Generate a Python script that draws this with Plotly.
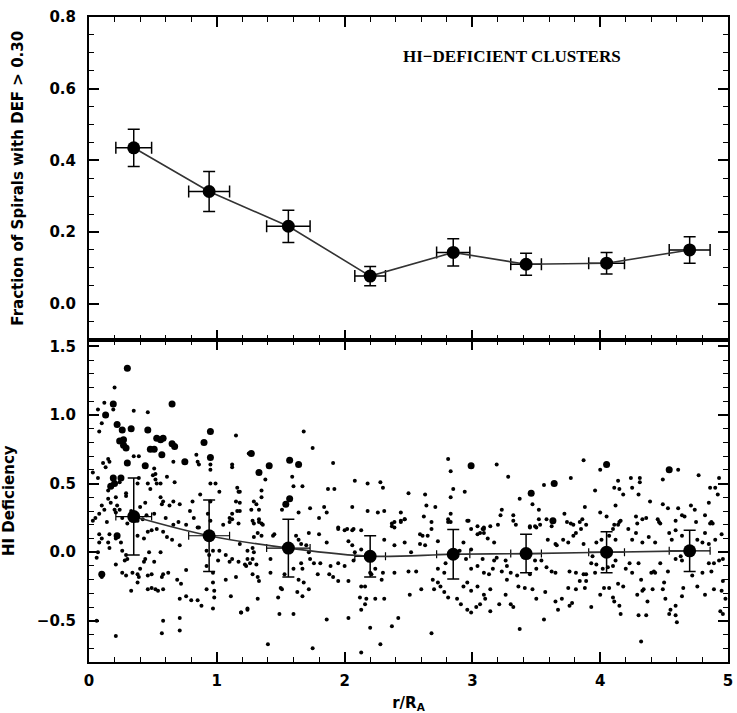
import plotly.graph_objects as go
from plotly.subplots import make_subplots

# ---- binned data ----
bin_x = [0.35, 0.94, 1.56, 2.20, 2.85, 3.42, 4.05, 4.70]
bin_xerr = [0.14, 0.16, 0.17, 0.12, 0.13, 0.12, 0.14, 0.16]
frac_y = [0.435, 0.313, 0.216, 0.077, 0.143, 0.110, 0.113, 0.150]
frac_err = [0.052, 0.056, 0.045, 0.027, 0.038, 0.031, 0.030, 0.037]
def_y = [0.26, 0.12, 0.03, -0.03, -0.015, -0.01, 0.0, 0.01]
def_err = [0.28, 0.26, 0.21, 0.15, 0.18, 0.14, 0.15, 0.15]

# ---- individual galaxies (large symbols) ----
big_x = [0.30, 0.19, 0.13, 0.65, 0.22, 0.26, 0.33, 0.46, 0.27, 0.24, 0.27, 0.29, 0.53, 0.58, 0.56,
         0.65, 0.67, 0.48, 0.51, 0.57, 0.90, 0.95, 0.95, 0.75, 0.30, 0.19, 0.20, 0.17, 0.25, 0.44,
         0.22, 0.10, 1.27, 1.33, 1.41, 1.57, 1.64, 1.57, 1.54, 2.99, 4.05, 4.54, 3.64, 3.46, 3.63]
big_y = [1.34, 1.08, 1.00, 1.08, 0.93, 0.89, 0.90, 0.89, 0.82, 0.81, 0.78, 0.76, 0.83, 0.83, 0.82,
         0.79, 0.77, 0.75, 0.75, 0.71, 0.80, 0.88, 0.69, 0.66, 0.65, 0.54, 0.50, 0.48, 0.54, 0.63,
         0.12, -0.16, 0.72, 0.58, 0.63, 0.67, 0.64, 0.39, 0.35, 0.63, 0.64, 0.60, 0.50, 0.43, 0.23]

# ---- individual galaxies (small symbols) ----
small_pts = [
    # r < 1.25, upper
    (0.20, 1.20), (0.19, 1.04), (0.12, 1.09), (0.07, 1.04), (0.10, 0.94), (0.08, 0.88), (0.35, 1.03),
    (0.46, 1.02), (0.39, 0.70), (0.35, 0.70), (1.15, 0.85), (0.84, 0.71), (0.95, 0.64), (0.95, 0.60),
    (0.85, 0.66), (0.86, 0.64), (0.66, 0.66), (1.12, 0.64), (1.12, 0.62), (0.16, 0.66), (0.13, 0.62),
    (0.15, 0.68), (0.11, 0.65), (0.03, 0.58), (0.07, 0.54), (0.24, 0.51), (0.39, 0.54), (0.38, 0.50),
    (0.51, 0.61), (0.52, 0.57), (0.50, 0.56), (0.52, 0.53), (0.53, 0.50), (0.56, 0.50), (0.46, 0.50),
    (0.48, 0.46), (0.61, 0.55), (0.67, 0.51), (0.29, 0.43), (0.29, 0.41), (0.15, 0.45), (0.15, 0.39),
    (0.17, 0.36), (0.21, 0.40), (0.22, 0.34), (0.10, 0.34), (0.08, 0.28), (0.12, 0.31), (0.20, 0.31),
    (0.21, 0.29), (0.24, 0.31), (0.56, 0.40), (0.58, 0.37), (0.57, 0.35), (0.66, 0.37), (0.71, 0.35),
    (0.63, 0.34), (0.81, 0.37), (0.87, 0.42), (0.95, 0.50), (0.99, 0.50), (1.02, 0.44), (1.16, 0.47),
    (1.17, 0.44), (1.15, 0.37), (1.16, 0.30), (0.95, 0.37), (0.93, 0.28), (0.95, 0.23), (0.79, 0.30),
    (0.82, 0.25), (1.10, 0.25), (1.12, 0.28), (1.25, 0.72), (0.51, 0.28), (0.45, 0.27), (0.42, 0.24),
    (0.30, 0.21), (0.38, 0.23), (0.66, 0.20), (0.76, 0.20), (0.05, 0.25), (0.14, 0.22), (0.26, 0.25),
    (0.33, 0.30), (0.40, 0.33), (0.44, 0.36), (0.60, 0.25), (0.70, 0.22), (0.86, 0.18), (1.05, 0.20),
    # r < 1.25, lower
    (0.03, 0.23), (0.08, 0.13), (0.10, 0.10), (0.08, 0.07), (0.16, 0.13), (0.15, 0.07), (0.07, 0.00),
    (0.06, -0.04), (0.21, 0.10), (0.16, 0.03), (0.25, 0.07), (0.26, 0.01), (0.29, -0.02), (0.30, -0.05),
    (0.28, -0.06), (0.21, -0.09), (0.10, -0.18), (0.26, -0.15), (0.29, -0.17), (0.34, -0.15), (0.38, -0.16),
    (0.39, -0.18), (0.38, -0.22), (0.33, -0.28), (0.40, -0.12), (0.43, -0.07), (0.44, -0.05), (0.47, 0.00),
    (0.46, -0.27), (0.49, -0.26), (0.52, -0.27), (0.54, -0.28), (0.51, -0.07), (0.56, 0.00), (0.58, -0.16),
    (0.57, -0.18), (0.62, -0.15), (0.46, -0.17), (0.49, -0.16), (0.58, -0.27), (0.69, -0.20), (0.72, -0.23),
    (0.76, -0.13), (0.71, -0.34), (0.76, -0.32), (0.80, -0.35), (0.85, -0.35), (0.88, -0.39), (0.92, -0.27),
    (0.97, -0.22), (0.98, -0.28), (0.98, -0.33), (0.97, -0.41), (1.07, -0.20), (1.11, -0.32), (1.15, -0.18),
    (1.19, -0.44), (1.24, -0.41), (0.58, -0.50), (0.57, -0.59), (0.71, -0.48), (0.71, -0.57), (0.06, -0.50),
    (0.21, -0.61), (0.46, 0.15), (0.49, 0.16), (0.53, 0.17), (0.58, 0.15), (0.61, 0.11), (0.65, 0.09),
    (0.71, 0.05), (0.38, 0.12), (0.43, 0.10), (0.85, 0.18), (0.92, 0.01), (0.94, -0.02), (0.97, 0.01),
    (1.02, 0.01), (1.07, -0.02), (1.12, -0.05), (1.10, -0.07), (1.01, -0.06), (0.92, -0.10), (0.97, -0.15),
    (1.17, -0.07), (1.24, -0.05), (1.23, -0.10), (1.10, 0.22), (1.12, 0.24), (1.17, 0.21),
    # 1.2 < r < 3.1, upper
    (1.68, 0.88), (1.75, 0.76), (1.38, 0.53), (1.59, 0.55), (1.60, 0.48), (1.67, 0.48), (1.91, 0.65),
    (1.87, 0.46), (1.92, 0.46), (2.08, 0.52), (2.18, 0.50), (2.28, 0.51), (2.30, 0.47), (2.50, 0.43),
    (2.63, 0.42), (2.64, 0.34), (2.71, 0.33), (2.81, 0.68), (2.83, 0.59), (2.85, 0.46), (2.83, 0.40),
    (2.83, 0.28), (2.94, 0.44), (1.18, 0.44), (1.18, 0.36), (1.18, 0.30), (1.35, 0.45), (1.35, 0.40),
    (1.29, 0.37), (1.31, 0.35), (1.27, 0.31), (1.33, 0.31), (1.29, 0.21), (1.35, 0.21), (1.33, 0.24),
    (1.51, 0.31), (1.64, 0.29), (1.73, 0.32), (1.84, 0.33), (1.86, 0.29), (1.80, 0.25), (2.06, 0.33),
    (2.18, 0.30), (2.26, 0.29), (2.31, 0.30), (2.37, 0.21), (2.44, 0.29), (2.47, 0.24), (2.44, 0.22),
    (2.39, 0.18), (2.62, 0.26), (2.68, 0.22), (2.81, 0.22), (2.97, 0.23), (3.09, 0.18), (1.95, 0.18),
    (2.02, 0.17), (2.07, 0.17),
    # 1.2 < r < 3.1, lower
    (1.28, 0.23), (1.33, 0.22), (1.36, 0.20), (1.32, 0.14), (1.29, 0.11), (1.35, 0.12), (1.45, 0.13),
    (1.44, 0.12), (1.18, 0.06), (1.24, 0.01), (1.28, 0.03), (1.29, 0.00), (1.28, -0.05), (1.26, -0.08),
    (1.22, -0.09), (1.31, -0.09), (1.42, -0.05), (1.28, -0.16), (1.32, -0.18), (1.33, -0.21), (1.42, -0.15),
    (1.53, -0.16), (1.50, -0.26), (1.51, -0.27), (1.48, -0.33), (1.32, -0.34), (1.24, -0.42), (1.19, -0.44),
    (1.49, -0.45), (1.60, -0.45), (1.63, -0.29), (1.67, -0.32), (1.72, -0.27), (1.68, -0.22), (1.64, -0.20),
    (1.62, 0.12), (1.64, 0.09), (1.66, 0.06), (1.70, 0.05), (1.72, 0.00), (1.73, -0.05), (1.66, -0.08),
    (1.67, -0.12), (1.60, -0.12), (1.72, 0.14), (1.80, 0.13), (1.86, 0.07), (1.81, -0.08), (1.79, -0.16),
    (1.76, -0.08), (1.88, -0.16), (1.91, -0.18), (1.95, -0.21), (1.89, -0.10), (1.95, -0.08), (2.00, -0.10),
    (1.86, -0.49), (2.03, -0.48), (1.75, -0.70), (1.40, -0.67), (1.95, 0.17), (2.00, 0.16), (2.06, 0.16),
    (2.13, 0.16), (2.03, 0.08), (2.06, 0.05), (2.13, 0.02), (2.03, -0.21), (2.07, -0.06), (2.08, 0.00),
    (2.13, -0.25), (2.16, -0.25), (2.12, -0.33), (2.17, -0.34), (2.24, -0.34), (2.16, -0.38), (2.13, -0.42),
    (2.20, -0.15), (2.21, -0.16), (2.24, -0.12), (2.29, -0.20), (2.30, -0.15), (2.39, -0.15), (2.50, -0.14),
    (2.56, -0.14), (2.31, -0.34), (2.37, -0.54), (2.42, -0.48), (2.28, -0.67), (2.13, -0.73), (2.20, -0.55),
    (2.37, 0.19), (2.39, 0.22), (2.44, 0.23), (2.47, 0.24), (2.31, 0.09), (2.39, 0.05), (2.47, 0.07),
    (2.52, 0.00), (2.59, 0.06), (2.63, 0.05), (2.65, 0.12), (2.61, 0.12), (2.59, 0.13), (2.68, 0.17),
    (2.51, -0.31), (2.60, -0.27), (2.68, -0.59), (2.69, -0.20), (2.70, -0.27), (2.73, -0.22), (2.75, -0.25),
    (2.78, -0.29), (2.81, -0.33), (2.79, -0.08), (2.73, -0.12), (2.78, -0.15), (2.88, -0.34), (2.91, -0.38),
    (2.96, -0.42), (2.99, -0.44), (3.03, -0.40), (2.96, -0.22), (2.99, -0.28), (2.93, -0.25), (2.99, -0.12),
    (3.04, -0.10), (3.08, -0.05), (3.09, -0.15), (2.83, 0.22), (2.96, 0.23), (2.99, 0.17), (3.04, 0.13),
    (3.09, 0.14), (2.93, 0.07), (2.99, 0.02), (2.95, -0.05), (2.90, 0.01), (2.81, 0.24), (2.73, 0.08),
    # r > 3, upper
    (3.19, 0.64), (3.28, 0.55), (3.87, 0.67), (4.00, 0.60), (4.61, 0.60), (4.77, 0.56), (3.56, 0.49),
    (3.77, 0.54), (3.37, 0.39), (3.47, 0.35), (3.52, 0.31), (3.96, 0.45), (4.14, 0.52), (4.11, 0.47),
    (4.15, 0.46), (4.18, 0.42), (4.24, 0.54), (4.25, 0.47), (4.31, 0.54), (4.31, 0.51), (4.30, 0.42),
    (4.49, 0.53), (4.39, 0.37), (4.49, 0.35), (4.53, 0.32), (4.61, 0.32), (4.64, 0.27), (4.66, 0.26),
    (4.71, 0.34), (4.74, 0.31), (4.86, 0.47), (4.90, 0.47), (4.93, 0.54), (4.92, 0.42), (4.85, 0.36),
    (4.82, 0.27), (3.23, 0.31), (3.22, 0.27), (3.20, 0.20), (3.32, 0.27), (3.32, 0.23), (3.34, 0.20),
    (3.52, 0.24), (3.58, 0.24), (3.72, 0.28), (3.74, 0.22), (3.77, 0.21), (3.84, 0.22), (3.86, 0.24),
    (3.89, 0.20), (3.88, 0.33), (4.00, 0.29), (4.05, 0.26), (4.12, 0.34), (4.15, 0.22), (4.11, 0.20),
    (4.28, 0.26), (4.29, 0.21), (4.36, 0.25), (4.45, 0.24), (4.47, 0.21), (4.75, 0.22), (4.86, 0.21),
    (4.88, 0.21), (3.08, 0.17), (3.45, 0.18), (3.49, 0.19),
    # r > 3, lower
    (3.04, 0.19), (3.06, 0.14), (3.09, 0.17), (3.14, 0.19), (3.12, 0.10), (3.17, 0.07), (3.19, -0.04),
    (3.17, -0.06), (3.26, -0.06), (3.27, -0.10), (3.23, -0.14), (3.30, -0.15), (3.27, -0.20), (3.16, -0.12),
    (3.13, -0.16), (3.09, -0.31), (3.10, -0.34), (3.14, -0.27), (3.14, -0.43), (3.06, -0.38), (3.04, -0.25),
    (3.21, -0.38), (3.26, -0.31), (3.30, -0.38), (3.32, -0.40), (3.37, -0.56), (3.41, -0.26), (3.47, -0.27),
    (3.45, -0.16), (3.35, -0.17), (3.36, -0.25), (3.50, -0.34), (3.56, -0.49), (3.57, -0.29), (3.65, -0.36),
    (3.67, -0.42), (3.70, -0.34), (3.76, -0.39), (3.78, -0.37), (3.75, -0.26), (3.81, -0.27), (3.88, -0.26),
    (3.93, -0.40), (3.76, -0.14), (3.81, -0.15), (3.87, -0.16), (3.89, -0.16), (3.84, -0.21), (3.89, -0.21),
    (3.45, 0.19), (3.50, 0.18), (3.53, 0.20), (3.62, 0.19), (3.59, 0.09), (3.65, 0.06), (3.66, 0.05),
    (3.49, -0.06), (3.54, -0.06), (3.50, -0.12), (3.58, -0.11), (3.62, -0.14), (3.65, -0.15), (3.71, 0.09),
    (3.75, 0.07), (3.79, 0.12), (3.81, 0.14), (3.87, 0.06), (3.85, 0.17), (3.79, 0.20), (3.94, -0.03),
    (3.93, -0.08), (3.97, -0.09), (3.96, -0.15), (4.02, -0.12), (4.06, -0.11), (4.10, -0.10), (4.12, -0.06),
    (3.97, 0.07), (4.01, 0.09), (4.07, 0.12), (4.12, 0.09), (4.10, 0.17), (4.14, 0.20), (4.16, 0.23),
    (4.00, -0.31), (4.03, -0.26), (4.07, -0.26), (4.10, -0.33), (4.11, -0.36), (4.14, -0.23), (4.18, -0.25),
    (4.15, -0.39), (4.16, -0.45), (4.20, -0.12), (4.23, -0.08), (4.25, -0.15), (4.30, -0.08), (4.32, -0.20),
    (4.29, -0.31), (4.33, -0.28), (4.34, -0.27), (4.37, -0.36), (4.30, -0.46), (4.36, -0.46), (4.32, -0.65),
    (4.25, 0.09), (4.28, 0.14), (4.33, 0.07), (4.38, 0.11), (4.43, 0.07), (4.22, 0.17), (4.40, -0.15),
    (4.42, -0.14), (4.43, -0.15), (4.47, -0.08), (4.50, -0.22), (4.53, -0.14), (4.41, -0.27), (4.49, -0.27),
    (4.51, -0.34), (4.54, -0.45), (4.59, -0.46), (4.60, -0.51), (4.64, -0.32), (4.65, -0.26), (4.54, 0.14),
    (4.56, 0.09), (4.59, 0.16), (4.64, 0.12), (4.76, 0.09), (4.80, 0.07), (4.85, 0.06), (4.82, 0.14),
    (4.87, 0.22), (4.90, 0.09), (4.95, 0.13), (4.59, -0.05), (4.63, -0.03), (4.64, -0.06), (4.72, -0.17),
    (4.85, -0.08), (4.89, -0.08), (4.93, -0.06), (4.96, -0.05), (4.80, -0.15), (4.87, -0.14), (4.76, -0.25),
    (4.82, -0.31), (4.89, -0.27), (4.95, -0.28), (4.96, -0.21), (4.98, -0.34), (4.94, -0.43), (4.96, -0.45),
    (4.59, -0.39), (4.55, -0.42), (4.33, 0.24), (4.46, 0.22), (4.59, 0.23),
]
small_x = [p[0] for p in small_pts]
small_y = [p[1] for p in small_pts]

fig = make_subplots(rows=2, cols=1, shared_xaxes=True, vertical_spacing=0)

# top panel
fig.add_trace(go.Scatter(
    x=bin_x, y=frac_y, mode="lines+markers",
    line=dict(color="#333", width=1.6),
    marker=dict(color="black", size=13),
    error_y=dict(type="data", array=frac_err, color="black", thickness=1.5, width=6),
    error_x=dict(type="data", array=bin_xerr, color="black", thickness=1.5, width=6),
    showlegend=False), row=1, col=1)

# bottom panel scatter
fig.add_trace(go.Scatter(
    x=small_x, y=small_y, mode="markers",
    marker=dict(color="black", size=4), showlegend=False), row=2, col=1)
fig.add_trace(go.Scatter(
    x=big_x, y=big_y, mode="markers",
    marker=dict(color="black", size=7, symbol="circle"), showlegend=False), row=2, col=1)
fig.add_trace(go.Scatter(
    x=bin_x, y=def_y, mode="lines+markers",
    line=dict(color="#333", width=1.6, shape="spline"),
    marker=dict(color="black", size=13),
    error_y=dict(type="data", array=def_err, color="black", thickness=1.5, width=6),
    error_x=dict(type="data", array=bin_xerr, color="black", thickness=1.2, width=4),
    showlegend=False), row=2, col=1)

FONT = "DejaVu Sans"
tickfont = dict(family=FONT, size=15, color="black", weight="bold")
titlefont = dict(family=FONT, size=15, color="black", weight="bold")
axis_common = dict(showline=True, linecolor="black", linewidth=2, mirror="ticks",
                   ticks="inside", ticklen=10, tickwidth=1.5, tickcolor="black",
                   showgrid=False, zeroline=False, tickfont=tickfont)

fig.update_xaxes(range=[0, 5], dtick=1, tick0=0, ticklabelstandoff=4,
                 minor=dict(ticks="inside", ticklen=5, dtick=0.2, tickcolor="black", tickwidth=1.2),
                 **axis_common)
fig.update_xaxes(showticklabels=False, row=1, col=1)
fig.update_xaxes(title=dict(text="r/R<sub>A</sub>", font=titlefont, standoff=8), row=2, col=1)

fig.update_yaxes(range=[-0.1, 0.8], dtick=0.2, tick0=0, tickformat=".1f", ticklabelstandoff=8,
                 minor=dict(ticks="inside", ticklen=5, dtick=0.05, tickcolor="black", tickwidth=1.2),
                 title=dict(text="Fraction of Spirals with DEF > 0.30", font=titlefont, standoff=22),
                 row=1, col=1, **axis_common)
fig.update_yaxes(range=[-0.8, 1.55], tickvals=[-0.5, 0, 0.5, 1.0, 1.5], ticklabelstandoff=8,
                 ticktext=["\u22120.5", "0.0", "0.5", "1.0", "1.5"],
                 minor=dict(ticks="inside", ticklen=5, dtick=0.1, tick0=0, tickcolor="black", tickwidth=1.2),
                 title=dict(text="HI Deficiency", font=titlefont, standoff=22),
                 row=2, col=1, **axis_common)

fig.add_annotation(x=3.31, y=0.69, xref="x", yref="y", text="HI\u2212DEFICIENT CLUSTERS",
                   showarrow=False, font=dict(family="Liberation Serif", size=17, color="black", weight="bold"))

fig.update_layout(width=737, height=713, margin=dict(l=88, r=4, t=17, b=51),
                  plot_bgcolor="white", paper_bgcolor="white")

fig.write_html("out.html")
